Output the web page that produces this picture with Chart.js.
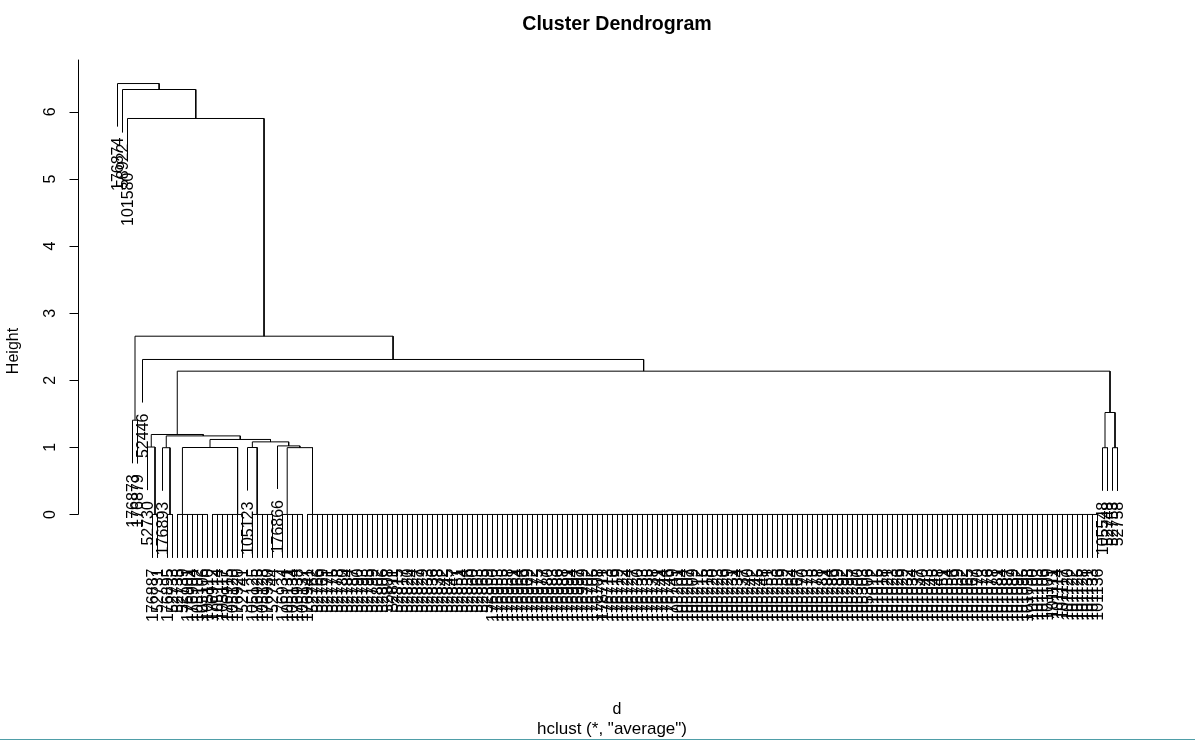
<!DOCTYPE html>
<html><head><meta charset="utf-8">
<script src="https://cdn.jsdelivr.net/npm/chart.js@4.4.0/dist/chart.umd.min.js"></script>
<style>html,body{margin:0;padding:0;background:#fff;overflow:hidden}canvas{display:block}</style>
</head><body>
<canvas id="c" width="1195" height="740"></canvas>
<script>
// ---- data ----
const leafLabels = [
 "176874","58922","101580","176873","176879","52446","52730",
 "176887","52731","176893","176895","52733","52735","52739","176901","176904","105102","105106","105110","176912",
 "105114","105117","176915","105120","176920","52741","105123","105125","176925","105128","176930","52744","176866",
 "176934","105131","105134","176938","105137","176941",
 "52762","52766","52769","52771","52775","52778","52780","52784","52787","52790","52793","52795","52799","52802",
 "52806","52808","52811","52815","52817","52820","52824","52827","52829","52833","52836","52838","52842","52845",
 "52847","52851","52854","52856","52860","52863","52865","52869",
 "176950","176953","176955","176958","176961","176964","176966","176969","176972","176975","176977","176980","176983",
 "176986","176988","176991","176994","176997","176999","176702","176705","176708","176711","176713","176716","176719",
 "176722","176724","176727","176730","176733","176735","176738","176741","176744","176746","176749",
 "105201","105204","105207","105209","105212","105215","105218","105220","105223","105226","105229","105231","105234",
 "105237","105240","105242","105245","105248","105251","105253","105256","105259","105262","105264","105267","105270",
 "105273","105275","105278","105281","105284","105286","105289","105292","105295","105297","105300","105303","105306",
 "101012","101015","101018","101021","101023","101026","101029","101032","101034","101037","101040","101043","101045",
 "101048","101051","101054","101056","101059","101062","101065","101067","101070","101073","101076","101078","101081",
 "101084","101087","101089","101092","101095","101098","101100","101103","101106","101109","101111","101114","101117",
 "101120","101122","101125","101128","101131","101133","101136",
 "105548","52748","52753","52758"
];
// groups of identical observations merged at height 0: first leaf, last leaf, side the chain starts from
const zeroGroupFirst = [7, 10, 12, 19, 27, 33, 38];
const zeroGroupLast  = [8, 11, 18, 25, 31, 37, 196];
const zeroGroupFrom  = ["L","L","R","L","R","R","R"];
// merges (L# = leaf, G# = zero-height group, M# = earlier merge)
const mergeLeft   = ["L6","L9","G2","L26","G5","L32","M3","M2","M1","M0","L197","L199","M10","M9","L3","L5","M14","L2","L1","L0"];
const mergeRight  = ["G0","G1","G3","G4","G6","M4","M5","M6","M7","M8","L198","L200","M11","M12","L4","M13","M15","M16","M17","M18"];
const mergeHeight = [1.005,0.995,0.998,0.998,0.996,1.022,1.082,1.118,1.171,1.192,0.995,0.995,1.520,2.136,1.405,2.310,2.657,5.902,6.334,6.423];
const yTicks = [0,1,2,3,4,5,6];

// ---- layout of the dendrogram (from the data) ----
const N = leafLabels.length;
const hang = 0.1 * Math.max(...mergeHeight);
const leafBottom = new Array(N).fill(null);
const groupX = [];
const pts = [];
const GAP = {x: 0, y: null};
function seg(list){ list.forEach(p => pts.push({x:p[0], y:p[1]})); pts.push(GAP); }

zeroGroupFirst.forEach((a, g) => {
  const b = zeroGroupLast[g];
  let x;
  if (zeroGroupFrom[g] === "L") { x = a; for (let i = a + 1; i <= b; i++) x = (x + i) / 2; }
  else { x = b; for (let i = b - 1; i >= a; i--) x = (x + i) / 2; }
  groupX.push(x);
  seg([[a,0],[b,0]]);
  for (let i = a; i <= b; i++) { leafBottom[i] = -hang; seg([[i,0],[i,-hang]]); }
});
const mergeX = [];
function childInfo(ref, h){
  const k = parseInt(ref.slice(1), 10);
  if (ref[0] === "L") { leafBottom[k] = h - hang; return [k, h - hang]; }
  if (ref[0] === "G") return [groupX[k], 0];
  return [mergeX[k], mergeHeight[k]];
}
mergeLeft.forEach((l, m) => {
  const h = mergeHeight[m];
  const [xl, bl] = childInfo(l, h);
  const [xr, br] = childInfo(mergeRight[m], h);
  mergeX.push((xl + xr) / 2);
  seg([[xl,bl],[xl,h],[xr,h],[xr,br]]);
});

const FONT = "'Liberation Sans', Arial, sans-serif";
const decor = {
  id: 'decor',
  afterDatasetsDraw(chart){
    const ctx = chart.ctx, xs = chart.scales.x, ys = chart.scales.y;
    ctx.save();
    ctx.fillStyle = '#000'; ctx.strokeStyle = '#000'; ctx.lineWidth = 1;
    // leaf labels
    ctx.font = '16px ' + FONT;
    ctx.textAlign = 'right'; ctx.textBaseline = 'middle';
    leafLabels.forEach((lab, i) => {
      if (leafBottom[i] === null) return;
      const px = xs.getPixelForValue(i), py = ys.getPixelForValue(leafBottom[i]) + 11;
      ctx.save(); ctx.translate(px + 1, py); ctx.rotate(-Math.PI/2); ctx.fillText(lab, 0, 0); ctx.restore();
    });
    // y axis
    const ax = Math.round(chart.chartArea.left) + 0.5;
    ctx.beginPath();
    ctx.moveTo(ax, ys.getPixelForValue(ys.max) - 2);
    ctx.lineTo(ax, Math.round(ys.getPixelForValue(0)) + 0.5);
    yTicks.forEach(t => { const py = Math.round(ys.getPixelForValue(t)) + 0.5; ctx.moveTo(ax, py); ctx.lineTo(ax - 9, py); });
    ctx.stroke();
    ctx.textAlign = 'center';
    yTicks.forEach(t => {
      const py = ys.getPixelForValue(t);
      ctx.save(); ctx.translate(ax - 28, py); ctx.rotate(-Math.PI/2); ctx.fillText(String(t), 0, 0); ctx.restore();
    });
    ctx.save(); ctx.translate(14, 351); ctx.rotate(-Math.PI/2); ctx.fillText('Height', 0, 0); ctx.restore();
    // titles
    ctx.textBaseline = 'alphabetic';
    ctx.font = 'bold 19.6px ' + FONT;
    ctx.fillText('Cluster Dendrogram', 617, 30);
    ctx.font = '16px ' + FONT;
    ctx.fillText('d', 617, 714);
    ctx.font = '17px ' + FONT;
    ctx.fillText('hclust (*, "average")', 612, 734);
    ctx.fillStyle = '#4f9ea8';
    ctx.fillRect(0, 739, 1195, 1);
    ctx.restore();
  }
};

new Chart(document.getElementById('c').getContext('2d'), {
  type: 'scatter',
  data: { datasets: [{ data: pts, showLine: true, borderColor: '#000', borderWidth: 1,
    pointRadius: 0, pointHoverRadius: 0, spanGaps: false, tension: 0, fill: false }] },
  options: {
    responsive: false, animation: false, devicePixelRatio: 1, events: [],
    layout: { padding: { left: 77.5, right: 37.5, top: 61.6, bottom: 161.8 } },
    scales: {
      x: { type: 'linear', min: -0.04 * (N - 1), max: 1.04 * (N - 1), display: false },
      y: { type: 'linear', min: -0.95, max: 6.75, display: false }
    },
    plugins: { legend: { display: false }, tooltip: { enabled: false }, title: { display: false } }
  },
  plugins: [decor]
});
</script>
</body></html>
